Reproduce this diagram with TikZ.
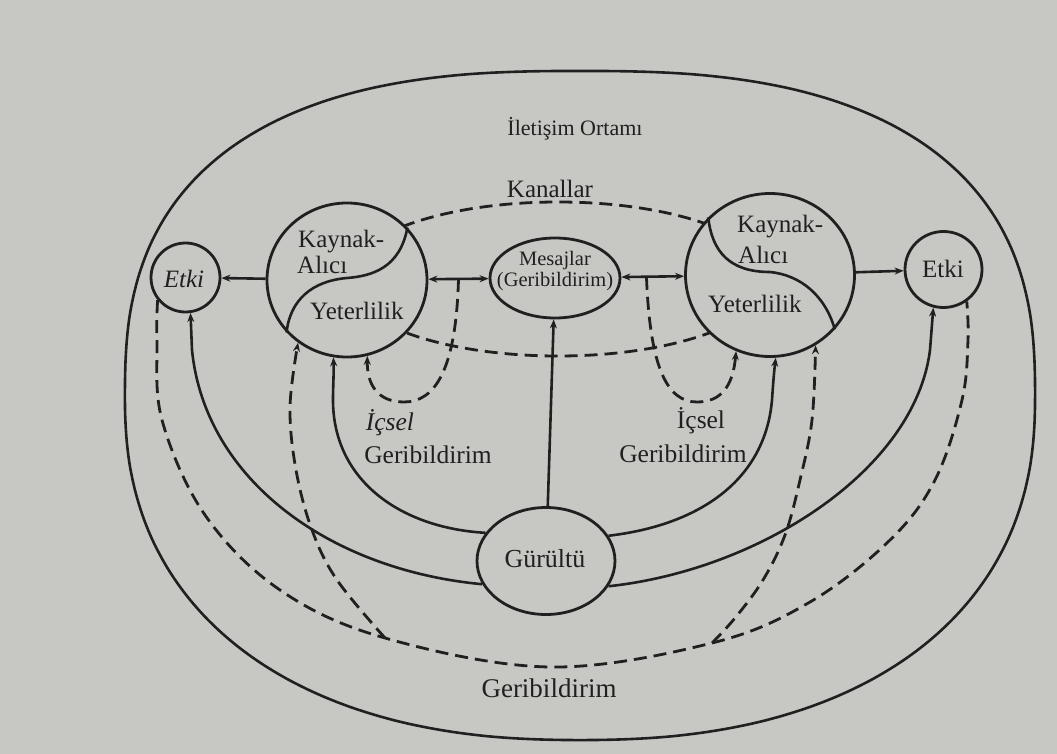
\documentclass[tikz,border=0pt]{standalone}
\usepackage{fontspec}
\setmainfont{Liberation Serif}
\usetikzlibrary{arrows.meta,shapes.geometric,calc}
\definecolor{bg}{RGB}{199,199,196}
\definecolor{ink}{RGB}{32,32,32}
\begin{document}
\begin{tikzpicture}[x=1pt,y=-1pt,
  solidline/.style={draw=ink,line width=2.6pt},
  dashline/.style={draw=ink,line width=2.8pt,dash pattern=on 13pt off 7pt},
  tip/.style={-{Stealth[length=9pt,width=7pt]}},
  dtip/.style={{Stealth[length=9pt,width=7pt]}-{Stealth[length=9pt,width=7pt]}},
  bubble/.style={ellipse,draw=ink,line width=2.8pt,fill=bg,inner sep=0pt},
  lbl/.style={text=ink,inner sep=0pt,font=\fontsize{25}{28}\selectfont},
  small/.style={text=ink,inner sep=0pt,font=\fontsize{20.5}{24}\selectfont},
]
\fill[bg] (0,0) rectangle (1057,754);
\useasboundingbox (0,0) rectangle (1057,754);

% outer communication environment (rounded superellipse)
\draw[solidline] plot[domain=1:361,samples=181,smooth,variable=\t]
  ({580+455*(cos(\t)<0 ? -1 : 1)*pow(abs(cos(\t)),(sin(\t)<0 ? 0.77 : 0.87))},
   {397+(sin(\t)<0 ? -326*pow(abs(sin(\t)),0.77) : 343*pow(abs(sin(\t)),0.87))}) -- cycle;

% channels (dashed ellipse)
\draw[dashline] (558,279) ellipse [x radius=212, y radius=77];

% nodes
\node[bubble,minimum width=160pt,minimum height=154pt] (kl) at (347,280) {};
\node[bubble,minimum width=169pt,minimum height=163pt] (kr) at (770,275) {};
\node[bubble,minimum width=69pt,minimum height=69pt] (el) at (185.5,277.5) {};
\node[bubble,minimum width=77pt,minimum height=76pt] (er) at (943.5,269.5) {};
\node[bubble,minimum width=130pt,minimum height=80pt] (mes) at (555,278) {};
\node[bubble,minimum width=138pt,minimum height=107pt] (gu) at (546,561) {};

% S curves inside source-receiver circles
\draw[solidline] (kl.41) .. controls (400,268) and (372,276) .. (347,278)
  .. controls (312,281) and (290,300) .. (kl.221);
\draw[solidline] (kr.137) .. controls (712,252) and (730,272) .. (770,272)
  .. controls (800,275) and (825,295) .. (kr.-40);

% texts
\node[lbl,anchor=base west] (t1) at (298,247) {Kaynak-};
\node[lbl,anchor=base west] (t2) at (297,273) {Alıcı};
\node[lbl,anchor=base west] (t3) at (310,319) {Yeterlilik};
\node[lbl,anchor=base west] (t4) at (737,233) {Kaynak-};
\node[lbl,anchor=base west] (t5) at (738,263) {Alıcı};
\node[lbl,anchor=base west] (t6) at (708,312) {Yeterlilik};
\node[lbl,anchor=base,font=\fontsize{25}{28}\selectfont\itshape] (t7) at (184,287) {Etki};
\node[lbl,anchor=base] (t8) at (943,277) {Etki};
\node[small,anchor=base] (t9) at (555,265) {Mesajlar};
\node[small,anchor=base] (t10) at (555,286) {(Geribildirim)};
\node[lbl,anchor=base] (t11) at (550,197) {Kanallar};
\node[lbl,anchor=base,font=\fontsize{22}{26}\selectfont] (t12) at (575,136) {İletişim Ortamı};
\node[lbl,anchor=base,font=\fontsize{25.5}{28}\selectfont\itshape] (t13) at (390,430) {İçsel};
\node[lbl,anchor=base,font=\fontsize{25.5}{28}\selectfont] (t14) at (428,463) {Geribildirim};
\node[lbl,anchor=base,font=\fontsize{25.5}{28}\selectfont] (t15) at (701,428) {İçsel};
\node[lbl,anchor=base,font=\fontsize{25.5}{28}\selectfont] (t16) at (683,462) {Geribildirim};
\node[lbl,anchor=base,font=\fontsize{26}{28}\selectfont] (t17) at (545,567) {Gürültü};
\node[lbl,anchor=base,font=\fontsize{27}{30}\selectfont] (t18) at (549,697) {Geribildirim};

% horizontal connectors
\draw[solidline,tip] (kl) -- (el);
\draw[solidline,dtip] (kl) -- (mes);
\draw[solidline,dtip] (mes) -- (kr);
\draw[solidline,tip] (kr) -- (er);
\coordinate (tl) at ($(kl.east)!0.5!(mes.west)$);
\coordinate (tr) at ($(mes.east)!0.4!(kr.west)$);

% internal feedback loops
\draw[dashline,tip] (tl) .. controls (456,370) and (435,402) .. (404,402)
  .. controls (378,402) and (367,385) .. (kl.-75);
\draw[dashline,tip] (tr) .. controls (650,370) and (668,402) .. (697,402)
  .. controls (722,402) and (733,385) .. (kr.-114);

% noise
\draw[solidline,tip] (gu) -- (mes);
\draw[solidline,tip] (gu.155) .. controls (400,528) and (333,480) .. (333,400)
  .. controls (333,385) and (334,372) .. (kl.-100);
\draw[solidline,tip] (gu.200) .. controls (330,570) and (205,480) .. (192,350) -- (el.-82);
\draw[solidline,tip] (gu.22) .. controls (700,525) and (765,480) .. (772,400)
  .. controls (773,385) and (774,372) .. (kr.-86);
\draw[solidline,tip] (gu.-22) .. controls (760,570) and (915,470) .. (930,350) -- (er.-105);

% external feedback
\coordinate (ml) at (385,638);
\coordinate (mr) at (712,643);
\draw[dashline] plot[smooth,tension=0.6] coordinates {(el.-141) (157,340) (162,420)
  (205,515) (280,590) (ml) (550,667) (mr) (810,602) (890,540) (935,480) (962,400)
  (968,340) (er.-54)};
\draw[dashline,tip] plot[smooth,tension=0.6] coordinates {(ml) (337,580) (312,530)
  (296,470) (290,407) (kl.-128)};
\draw[dashline,tip] plot[smooth,tension=0.6] coordinates {(mr) (735,618) (763,580)
  (785,535) (800,480) (812,420) (kr.-57)};
\end{tikzpicture}
\end{document}
